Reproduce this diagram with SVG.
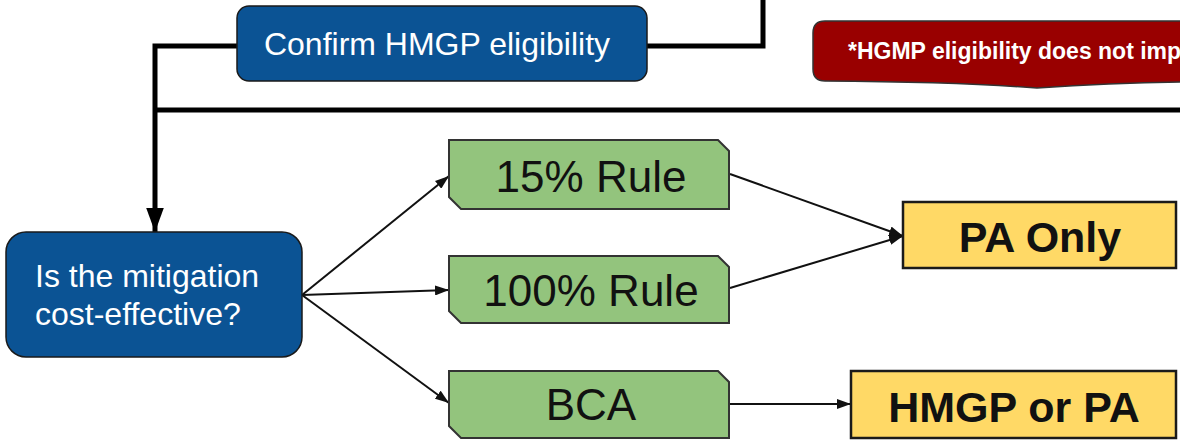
<svg xmlns="http://www.w3.org/2000/svg" width="1180" height="440" viewBox="0 0 1180 440">
<defs>
<style>
.blue{fill:#0b5394;stroke:#1a1a1a;stroke-width:1.5}
.green{fill:#93c47d;stroke:#333;stroke-width:2}
.yellow{fill:#ffd966;stroke:#1a1a1a;stroke-width:2.5}
.red{fill:#990000;stroke:#333;stroke-width:1.5}
.wt{font-family:"Liberation Sans",Arial,sans-serif;fill:#fff}
.gt{font-family:"Liberation Sans",Arial,sans-serif;font-size:44px;fill:#111;text-anchor:middle}
.yt{font-family:"Liberation Sans",Arial,sans-serif;font-size:43px;font-weight:bold;fill:#111;text-anchor:middle}
.thick{fill:none;stroke:#000;stroke-width:5}
.thin{fill:none;stroke:#111;stroke-width:2}
</style>
<marker id="big" markerUnits="userSpaceOnUse" markerWidth="24" markerHeight="30" refX="30" refY="11" orient="auto" viewBox="0 0 30 22">
<path d="M0,0 L30,11 L0,22 Z" fill="#000"/>
</marker>
<marker id="sm" markerUnits="userSpaceOnUse" markerWidth="14" markerHeight="10" refX="14" refY="5" orient="auto" viewBox="0 0 14 10">
<path d="M0,0 L14,5 L0,10 Z" fill="#111"/>
</marker>
</defs>

<g id="connectors">
<path class="thick" d="M647,46 H763 V0"/>
<path class="thick" d="M237,46 H155 V232" marker-end="url(#big)"/>
<path class="thick" d="M155,110 H1180" stroke-width="4.5"/>
<path class="thin" d="M302,295 L449,176" marker-end="url(#sm)"/>
<path class="thin" d="M302,295 L449,290" marker-end="url(#sm)"/>
<path class="thin" d="M302,295 L449,403" marker-end="url(#sm)"/>
<path class="thin" d="M730,174 L903,236" marker-end="url(#sm)"/>
<path class="thin" d="M730,288 L903,236" marker-end="url(#sm)"/>
<path class="thin" d="M730,404 L851,404" marker-end="url(#sm)"/>
</g>

<g id="confirm">
<rect class="blue" x="237" y="6" width="410" height="75" rx="12"/>
<text class="wt" x="437" y="55" font-size="32" text-anchor="middle">Confirm HMGP eligibility</text>
</g>

<g id="note">
<path class="red" d="M825,21 H1182 V82 Q1110,83 1037,88 Q960,82 825,81 Q813,81 813,69 V33 Q813,21 825,21 Z"/>
<text class="wt" x="848" y="59" font-size="23" font-weight="bold">*HGMP eligibility does not imply</text>
</g>

<g id="costeffective">
<rect class="blue" x="6" y="232" width="296" height="125" rx="20"/>
<text class="wt" x="35" y="287" font-size="32">Is the mitigation</text>
<text class="wt" x="35" y="325" font-size="32">cost-effective?</text>
</g>

<g id="rule15">
<path class="green" d="M449,140 H718 L729,151 V209 H461 L449,197 Z"/>
<text class="gt" x="591" y="192">15% Rule</text>
</g>

<g id="rule100">
<path class="green" d="M449,256 H718 L729,267 V323 H461 L449,311 Z"/>
<text class="gt" x="591" y="306">100% Rule</text>
</g>

<g id="bca">
<path class="green" d="M449,371 H718 L729,382 V438 H461 L449,426 Z"/>
<text class="gt" x="591" y="420">BCA</text>
</g>

<g id="paonly">
<rect class="yellow" x="903" y="202" width="273" height="66"/>
<text class="yt" x="1040" y="252">PA Only</text>
</g>

<g id="hmgppa">
<rect class="yellow" x="851" y="371" width="325" height="67"/>
<text class="yt" x="1014" y="422">HMGP or PA</text>
</g>
</svg>
